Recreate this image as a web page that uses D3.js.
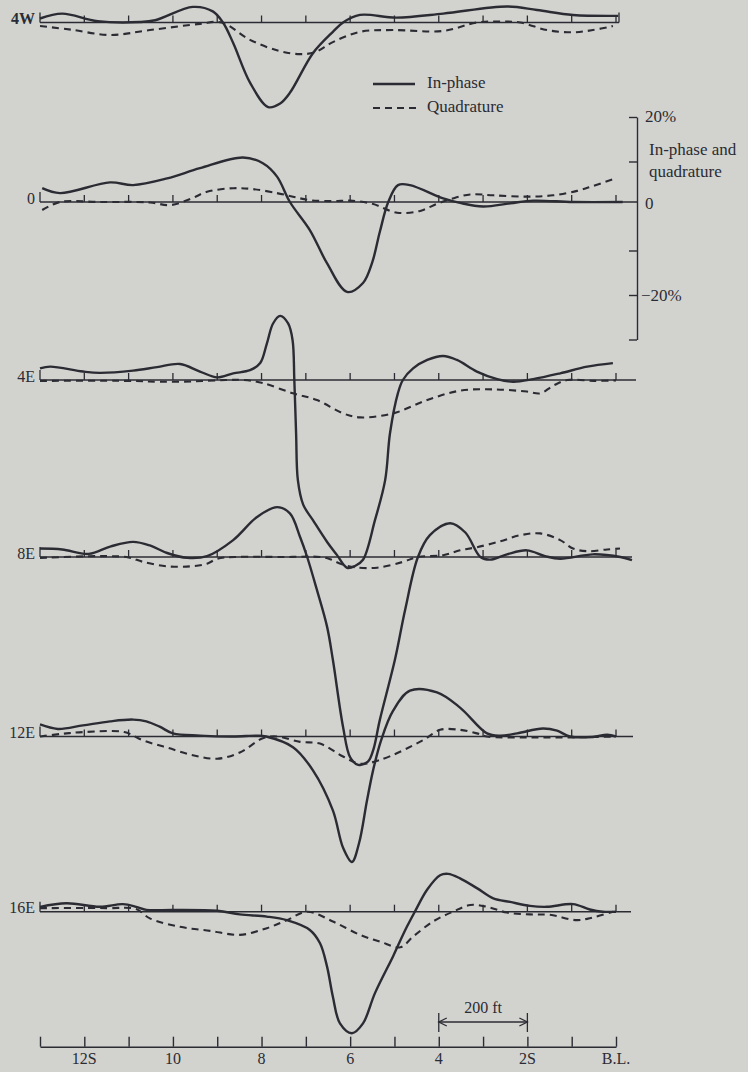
<!DOCTYPE html>
<html>
<head>
<meta charset="utf-8">
<script src="https://cdn.jsdelivr.net/npm/d3@7"></script>
<style>
  body { margin: 0; background: #d2d3cf; }
  svg { display: block; }
  text { font-family: "Liberation Serif", "DejaVu Serif", serif; fill: #2b2b33; }
</style>
</head>
<body>
<svg id="chart" width="748" height="1072"></svg>
<script>
// stations along the traverse (100 ft apart), B.L. = 0
const stations = d3.range(0, 14);
const stationLabels = [[12, '12S'], [10, '10'], [8, '8'], [6, '6'], [4, '4'], [2, '2S'], [0, 'B.L.']];
const lineNames = ['4W', '0', '4E', '8E', '12E', '16E'];

// [station, percent]
const inPhase4W = [[13,0.9],[12.5,2.0],[11.7,0.3],[10.75,0.1],[10.4,0.5],[9.55,3.5],[9.1,2.5],[8.87,0],[8.64,-4.6],[8.26,-13.5],[7.85,-19],[7.58,-18.2],[7.36,-15.8],[6.84,-6.9],[6.39,-2.1],[6.16,0],[5.78,1.7],[4.96,1.1],[3.9,2.0],[2.46,3.6],[1.78,2.8],[0.97,1.7],[-0.05,1.5]];
const quad4W = [[13,-0.8],[12.3,-1.6],[11.42,-2.8],[10.52,-1.7],[9.39,-0.3],[8.9,0],[8.26,-3.9],[7.6,-6.4],[7.13,-7.1],[6.8,-6.7],[6.39,-4.4],[5.78,-2.1],[5.03,-1.7],[3.9,-1.9],[3.14,0],[2.62,0.2],[2.16,0],[1.56,-1.7],[0.97,-2.2],[0.52,-1.7],[0.07,-0.8]];

const inPhase0 = [[12.95,3.1],[12.55,2.0],[11.42,4.4],[10.9,3.8],[10.13,5.3],[9.39,7.6],[8.42,10.0],[7.97,8.7],[7.65,5.7],[7.36,0],[6.91,-6.3],[6.52,-13.8],[6.07,-20.2],[5.71,-18.2],[5.5,-13.5],[5.33,-6.7],[5.14,0],[4.92,3.8],[4.65,3.8],[3.9,0.8],[3.52,-0.2],[3.0,-1.0],[2.39,-0.3],[1.87,0.3],[0.97,0],[-0.15,0]];
const quad0 = [[12.95,-1.8],[12.55,0],[11.65,0],[10.52,-0.1],[10.07,-0.7],[9.6,0.7],[9.23,2.3],[8.64,3.1],[8.2,2.9],[7.65,2.0],[7.29,1.2],[6.91,0.4],[6.39,0.2],[6.0,0.3],[5.5,-0.4],[4.94,-2.4],[4.42,-2.0],[4.04,-0.4],[3.74,0.6],[3.29,1.7],[2.77,1.5],[2.01,1.2],[1.42,1.5],[0.88,2.5],[0.52,3.6],[0.07,5.1]];

const inPhase4E = [[13,2.6],[12.77,3.0],[12.03,1.9],[11.65,1.6],[10.9,2.1],[10.36,2.9],[9.84,3.6],[9.39,1.9],[9.0,0.6],[8.64,1.5],[8.26,2.2],[8.03,3.8],[7.88,8.2],[7.74,12.7],[7.58,14.4],[7.40,12.7],[7.30,9.0],[7.26,0],[7.22,-12],[7.18,-22.5],[7.06,-28],[6.84,-31.5],[6.52,-36.4],[6.3,-39.3],[6.07,-42.2],[5.89,-41.8],[5.71,-40.4],[5.44,-31.5],[5.21,-22.5],[5.10,-11.9],[4.92,-2.9],[4.81,0],[4.58,2.6],[4.26,4.5],[3.9,5.4],[3.59,4.5],[3.14,1.9],[2.68,0.2],[2.32,-0.4],[1.87,0.2],[1.26,1.5],[0.65,3.0],[0.07,3.8]];
const quad4E = [[13,-0.2],[11,-0.2],[10.3,-0.4],[9.5,-0.3],[8.8,0],[8.4,0],[7.97,-0.7],[7.29,-3.0],[6.75,-4.5],[6.16,-7.5],[5.78,-8.4],[5.03,-7.5],[4.26,-4.5],[3.52,-2.4],[2.77,-2.1],[2.01,-2.6],[1.71,-3.0],[1.42,-1.3],[1.10,0],[0.5,-0.2],[0,-0.1]];

const inPhase8E = [[13,1.9],[12.5,1.7],[11.9,0.7],[11.4,2.4],[10.9,3.4],[10.52,2.6],[10.13,0.9],[9.68,-0.2],[9.23,0.2],[8.64,3.8],[8.1,9.0],[7.65,11.2],[7.36,9.8],[7.13,4.5],[6.97,0],[6.75,-7.4],[6.52,-15.7],[6.39,-23.1],[6.16,-38.2],[6.0,-45],[5.82,-46.7],[5.6,-46],[5.48,-43.4],[5.33,-36.6],[4.99,-23.1],[4.76,-11.9],[4.47,0],[4.2,4.9],[3.74,7.6],[3.4,5.5],[3.06,0],[2.84,-0.6],[2.46,0.6],[2.01,1.5],[1.6,0.2],[1.26,-0.4],[0.52,0.6],[-0.1,0],[-0.36,-0.7]];
const quad8E = [[13,-0.2],[11.5,0.2],[11,-0.1],[10.67,-1.1],[10.13,-2.1],[9.61,-2.1],[9.23,-1.5],[9.0,-0.4],[8.6,0],[7.5,0],[6.68,0],[6.45,-0.5],[6.2,-1.6],[5.9,-2.3],[5.39,-2.4],[4.81,-1.1],[4.47,0],[3.9,0.4],[3.52,1.5],[3.14,2.2],[2.62,3.5],[2.16,4.9],[1.71,5.3],[1.26,3.8],[0.97,1.9],[0.65,1.3],[0.2,1.7],[-0.09,1.9]];

const inPhase12E = [[13,2.7],[12.6,1.7],[12.03,2.5],[11.42,3.4],[10.9,3.8],[10.6,3.4],[10.3,2.2],[10.0,0.7],[9.39,0.2],[8.64,0],[8.1,0.2],[7.9,0],[7.29,-2.4],[6.84,-7.6],[6.39,-16.6],[6.16,-25],[5.96,-28.2],[5.8,-24],[5.62,-14.4],[5.48,-7.5],[5.3,-0.8],[5.03,5.8],[4.65,10.3],[4.04,9.9],[3.52,6.5],[2.91,0.7],[2.62,0.2],[2.23,0.7],[1.65,1.8],[1.33,1.3],[1.04,0],[0.52,-0.1],[0.2,0.4],[0,0]];
const quad12E = [[13,0],[12.5,0.6],[12,1.0],[11.1,1.0],[10.67,-0.9],[10.13,-2.5],[9.55,-4.2],[9.0,-5.0],[8.49,-3.6],[7.97,-0.4],[7.65,0],[7.13,-1.2],[6.68,-1.6],[6.16,-4.5],[5.78,-6.1],[5.33,-5.3],[4.35,-0.8],[3.97,1.5],[3.52,1.5],[3.14,0.7],[2.91,0],[2,-0.2],[1,-0.2],[0,0]];

const inPhase16E = [[13,1.1],[12.4,1.9],[11.65,1.1],[11.13,1.7],[10.83,1.1],[10.6,0.4],[10.0,0.4],[9.0,0.2],[8.49,-0.6],[7.88,-1.1],[7.43,-1.9],[6.91,-4.1],[6.68,-7.1],[6.52,-12.4],[6.39,-19.1],[6.23,-25.1],[5.96,-27.3],[5.71,-25.1],[5.44,-18.3],[5.03,-10],[4.92,-7.6],[4.72,-3.4],[4.54,0],[4.26,5.0],[3.97,8.2],[3.79,8.5],[3.52,7.5],[3.14,5.3],[2.77,3.0],[2.39,2.2],[1.94,1.3],[1.56,1.1],[0.97,1.7],[0.59,0.5],[0.3,0],[0,0]];
const quad16E = [[13,0.8],[11.5,0.8],[10.83,0.6],[10.52,-1.5],[9.84,-3.4],[9.16,-4.3],[8.49,-5.2],[7.88,-3.7],[7.43,-1.9],[6.97,0],[6.39,-2.2],[5.78,-5.2],[5.33,-6.7],[4.87,-8.0],[4.58,-5.6],[4.13,-2.2],[3.68,0],[3.29,1.5],[2.91,1.1],[2.46,-0.2],[1.94,-0.6],[1.49,-0.7],[0.88,-1.9],[0.52,-1.3],[0.07,0]];

const inPhase = [inPhase4W, inPhase0, inPhase4E, inPhase8E, inPhase12E, inPhase16E];
const quadrature = [quad4W, quad0, quad4E, quad8E, quad12E, quad16E];
const scaleTicks = [20, 10, 0, -10, -20, -30];

// layout
const ink = '#2b2b33';
const baseY = [22.5, 202, 380, 557, 736.5, 911.7];
const lineEnd = [619, 637, 636, 632, 633, 631];
const pxPerTen = 44.5;
const axisY = 1046.7;
const solidWidth = 2.4;
const dashWidth = 2.1;
const dashPattern = '7,5';

const svg = d3.select('#chart');
const x = d3.scaleLinear().domain([13, 0]).range([40, 616]);

const curve = d3.curveCatmullRom.alpha(0.5);

lineNames.forEach((name, i) => {
  const y = d3.scaleLinear().domain([0, 10]).range([baseY[i], baseY[i] - pxPerTen]);
  const g = svg.append('g').attr('class', 'profile');

  g.append('line')
    .attr('x1', x(13)).attr('x2', lineEnd[i])
    .attr('y1', baseY[i]).attr('y2', baseY[i])
    .attr('stroke', ink).attr('stroke-width', 1.6);

  g.selectAll('.tick')
    .data(stations)
    .enter()
    .append('line')
    .attr('x1', d => x(d)).attr('x2', d => x(d))
    .attr('y1', baseY[i])
    .attr('y2', d => baseY[i] - (d === 13 ? 10 : 7))
    .attr('stroke', ink).attr('stroke-width', 1.3);

  if (i === 0) {
    g.append('line')
      .attr('x1', lineEnd[i]).attr('x2', lineEnd[i])
      .attr('y1', baseY[i]).attr('y2', baseY[i] - 10)
      .attr('stroke', ink).attr('stroke-width', 1.3);
  }

  const path = d3.line().x(d => x(d[0])).y(d => y(d[1])).curve(curve);

  g.append('path')
    .attr('d', path(quadrature[i]))
    .attr('fill', 'none').attr('stroke', ink)
    .attr('stroke-width', dashWidth).attr('stroke-dasharray', dashPattern);

  g.append('path')
    .attr('d', path(inPhase[i]))
    .attr('fill', 'none').attr('stroke', ink)
    .attr('stroke-width', solidWidth);

  g.append('text')
    .attr('x', 35).attr('y', baseY[i] - 2)
    .attr('text-anchor', 'end')
    .attr('dominant-baseline', 'middle')
    .style('font-size', '16px')
    .style('font-weight', i === 0 ? 'bold' : 'normal')
    .text(name);
});

// legend
const legend = svg.append('g').attr('class', 'legend');
legend.append('line')
  .attr('x1', 373).attr('x2', 415).attr('y1', 84).attr('y2', 84)
  .attr('stroke', ink).attr('stroke-width', solidWidth);
legend.append('line')
  .attr('x1', 373).attr('x2', 416).attr('y1', 108).attr('y2', 108)
  .attr('stroke', ink).attr('stroke-width', dashWidth).attr('stroke-dasharray', dashPattern);
legend.append('text').attr('x', 427).attr('y', 84).attr('dominant-baseline', 'middle')
  .style('font-size', '17px').text('In-phase');
legend.append('text').attr('x', 427).attr('y', 108).attr('dominant-baseline', 'middle')
  .style('font-size', '17px').text('Quadrature');

// vertical percent scale
const yScaleBar = d3.scaleLinear().domain([-30, 20]).range([339.5, 117]);
const scaleAxis = d3.axisLeft(yScaleBar)
  .tickValues(scaleTicks)
  .tickSize(8)
  .tickSizeOuter(0)
  .tickFormat('');
const scaleG = svg.append('g')
  .attr('transform', 'translate(637,0)')
  .call(scaleAxis);
scaleG.selectAll('path, line').attr('stroke', ink).attr('stroke-width', 1.4);
scaleG.selectAll('.tick').filter(d => d === 0).remove();

const scaleText = svg.append('g').style('font-size', '17px');
scaleText.append('text').attr('x', 645).attr('y', yScaleBar(20) + 1).attr('dominant-baseline', 'middle').text('20%');
scaleText.append('text').attr('x', 649).attr('y', 151).attr('dominant-baseline', 'middle').text('In-phase and');
scaleText.append('text').attr('x', 649).attr('y', 173).attr('dominant-baseline', 'middle').text('quadrature');
scaleText.append('text').attr('x', 645).attr('y', yScaleBar(0) - 1).attr('dominant-baseline', 'middle').text('0');
scaleText.append('text').attr('x', 641).attr('y', yScaleBar(-20) + 2).attr('dominant-baseline', 'middle').text('\u221220%');

// station axis
const xAxis = d3.axisTop(x)
  .tickValues(stations)
  .tickSize(10)
  .tickSizeOuter(0)
  .tickFormat('');
const xAxisEl = svg.append('g')
  .attr('class', 'x axis')
  .attr('transform', `translate(0,${axisY})`)
  .call(xAxis);
xAxisEl.selectAll('path, line').attr('stroke', ink).attr('stroke-width', 1.4);

svg.append('g')
  .selectAll('text')
  .data(stationLabels)
  .enter()
  .append('text')
  .attr('x', d => x(d[0]))
  .attr('y', axisY + 14)
  .attr('text-anchor', 'middle')
  .attr('dominant-baseline', 'middle')
  .style('font-size', '16px')
  .text(d => d[1]);

// 200 ft scale bar
const bar = svg.append('g').attr('stroke', ink).attr('stroke-width', 1.3).attr('fill', 'none');
const bx1 = x(4), bx2 = x(2), by = 1022;
bar.append('line').attr('x1', bx1).attr('x2', bx2).attr('y1', by).attr('y2', by);
bar.append('line').attr('x1', bx1).attr('x2', bx1).attr('y1', by - 9).attr('y2', by + 10);
bar.append('line').attr('x1', bx2).attr('x2', bx2).attr('y1', by - 9).attr('y2', by + 10);
bar.append('path').attr('d', `M${bx1 + 8},${by - 4}L${bx1},${by}L${bx1 + 8},${by + 4}`);
bar.append('path').attr('d', `M${bx2 - 8},${by - 4}L${bx2},${by}L${bx2 - 8},${by + 4}`);
svg.append('text')
  .attr('x', (bx1 + bx2) / 2).attr('y', 1009)
  .attr('text-anchor', 'middle').attr('dominant-baseline', 'middle')
  .style('font-size', '16px')
  .text('200 ft');
</script>
</body>
</html>
